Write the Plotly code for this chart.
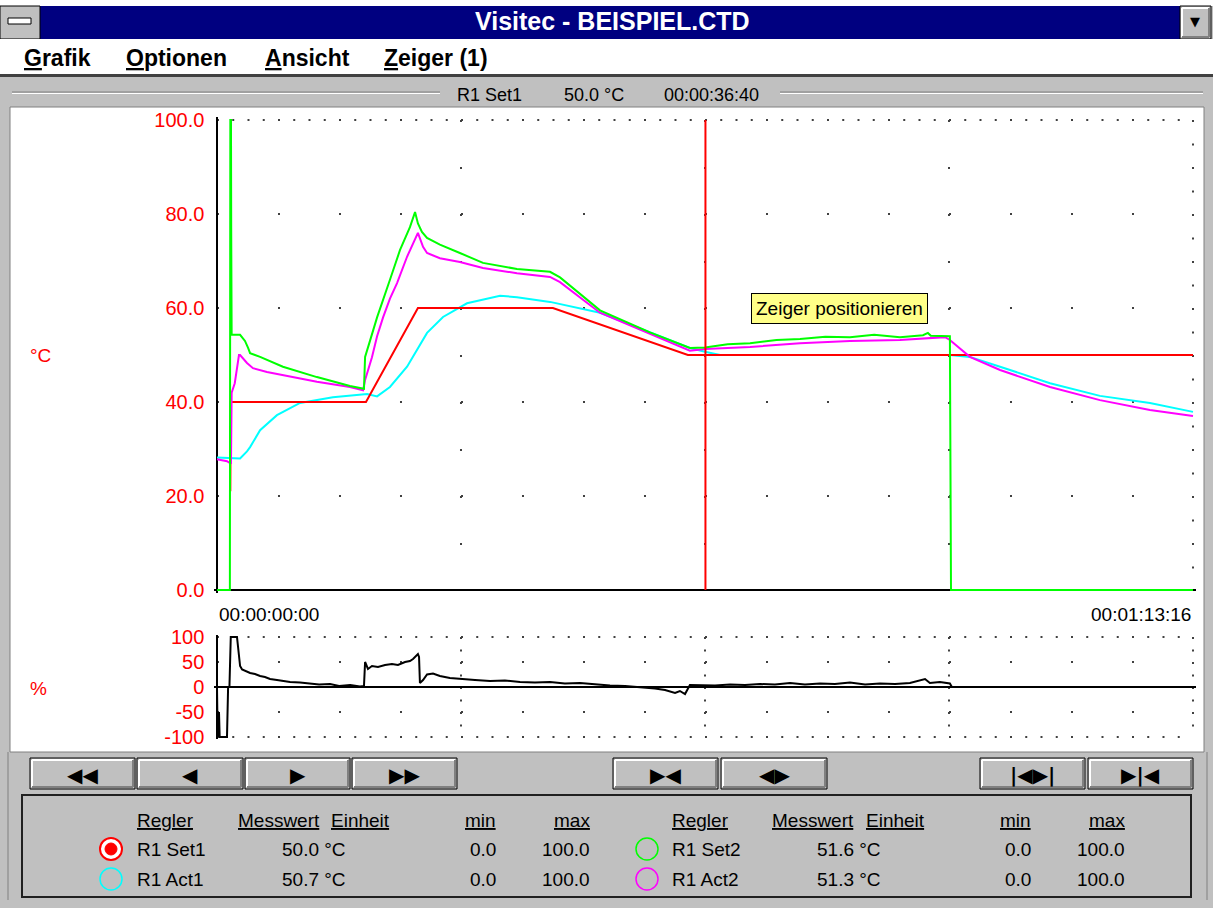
import numpy as np
import plotly.graph_objects as go

W, H = 1213, 908
FONT = "Liberation Sans, Arial, sans-serif"

# ---------------- data ----------------
T_END = 4396          # record length in s  (00:01:13:16)
cursor_t = 2200       # cursor position in s (00:00:36:40)

set1_t = [60, 62, 671, 905, 1513, 2121, 4396]
set1_v = [21, 40, 40, 60, 60, 50, 50]

act1_t = [0, 59, 104, 135, 149, 194, 270, 374, 522, 676, 721, 779, 856, 946, 1018, 1126,
          1275, 1351, 1500, 1725, 1950, 2130, 2198, 2266, 3301, 3391, 3527, 3752, 3977, 4202, 4396]
act1_v = [28.2, 28.0, 28.0, 29.5, 30.4, 34.0, 37.2, 39.8, 41.0, 41.7, 41.2, 43.2, 47.5, 54.7, 58.1, 61.0,
          62.6, 62.3, 61.3, 59.0, 54.8, 51.5, 50.7, 50.0, 50.0, 49.6, 47.5, 44.0, 41.3, 39.8, 37.9]

set2_t = [0, 58, 60, 63, 64, 66, 104, 126, 140, 149, 194, 297, 450, 599, 662, 667, 689, 721, 779,
          824, 869, 892, 905, 923, 946, 1004, 1094, 1198, 1351, 1450, 1500, 1545, 1725, 1950, 2130,
          2198, 2300, 2401, 2520, 2626, 2740, 2851, 2960, 3076, 3180, 3202, 3215, 3301, 3306, 4396]
set2_v = [0, 0, 100, 100, 77, 54.3, 54.3, 53.0, 51.5, 50.4, 49.6, 47.5, 45.3, 43.4, 42.8, 49.6, 53.0, 58.0, 66.0,
          72.3, 77.2, 80.4, 78.0, 76.2, 74.9, 73.5, 71.7, 69.6, 68.3, 68.0, 67.7, 66.5, 59.5, 54.8, 51.5,
          51.6, 52.3, 52.5, 53.2, 53.4, 53.9, 53.8, 54.3, 53.8, 54.2, 54.7, 54.1, 54.0, 0, 0]

act2_t = [0, 45, 58, 63, 66, 80, 99, 104, 135, 162, 225, 297, 450, 599, 658, 667, 698, 721, 748, 779,
          811, 856, 905, 928, 946, 1004, 1094, 1198, 1351, 1500, 1545, 1725, 1950, 2130, 2198, 2401,
          2626, 2851, 3076, 3279, 3301, 3391, 3527, 3752, 3977, 4202, 4396]
act2_v = [27.8, 27.4, 27.0, 27.0, 42.0, 44.0, 50.0, 50.0, 48.3, 47.2, 46.4, 45.7, 44.3, 43.2, 42.5, 44.7, 49.5, 54.0, 58.0, 62.0,
          65.3, 70.9, 76.0, 73.0, 71.7, 70.6, 69.8, 68.5, 67.4, 66.6, 65.5, 59.0, 54.5, 50.9, 51.3, 51.7,
          52.5, 53.0, 53.2, 53.8, 53.2, 49.6, 46.8, 43.2, 40.4, 38.3, 37.0]

pct_t = [0, 3, 9, 12, 45, 50, 56, 62, 90, 99, 104, 113, 126, 149, 171, 194, 216, 239, 270, 300, 329,
         374, 420, 460, 509, 550, 600, 644, 662, 667, 680, 698, 725, 757, 788, 815, 847, 869, 883, 896,
         905, 910, 914, 928, 946, 973, 1004, 1049, 1094, 1162, 1230, 1297, 1365, 1432, 1500, 1567,
         1635, 1703, 1770, 1838, 1905, 1973, 2018, 2063, 2085, 2108, 2130, 2175, 2243, 2311, 2378,
         2446, 2513, 2581, 2648, 2716, 2783, 2851, 2919, 2986, 3054, 3121, 3189, 3211, 3256, 3301, 3310]
pct_v = [0, -100, -50, -100, -100, 0, 0, 100, 100, 65, 42, 35, 32, 28, 26, 22, 20, 16, 14, 12, 10,
         9, 7, 5, 6, 2, 4, 1, 2, 50, 36, 42, 40, 44, 46, 44, 50, 52, 56, 62,
         66, 60, 8, 14, 25, 27, 22, 18, 16, 14, 12, 13, 10, 9, 10, 7,
         8, 5, 3, 2, 0, -3, -6, -12, -8, -14, 4, 4, 3, 5, 4,
         6, 5, 8, 5, 7, 6, 9, 5, 7, 6, 8, 16, 8, 10, 7, 0]

main_ticks = [0, 20, 40, 60, 80, 100]
main_ticktext = ["0.0", "20.0", "40.0", "60.0", "80.0", "100.0"]
pct_ticks = [-100, -50, 0, 50, 100]
pct_ticktext = ["-100", "-50", "0", "50", "100"]
main_grid_rows = [20, 40, 60, 80]
pct_grid_rows = [-50, 50]
grid_cols = [T_END / 4, T_END / 2, 3 * T_END / 4]
scale_min, scale_max = 0.0, 100.0


def fmt_time(sec):
    sec = int(round(sec))
    d, r = divmod(sec, 86400)
    h, r = divmod(r, 3600)
    m, s = divmod(r, 60)
    return f"{d:02d}:{h:02d}:{m:02d}:{s:02d}"


def at_cursor(t, v):
    return float(np.interp(cursor_t, t, v))


# ---------------- geometry helpers ----------------
def X(p):
    return p / W


def Y(p):
    return 1 - p / H


PX0, PX1 = 217, 1193          # pixel x of t=0 and t=T_END
pps = (PX1 - PX0) / T_END
xpad = 12
xr = [-xpad, T_END + xpad]
dom_x = [X(PX0 - xpad * pps), X(PX1 + xpad * pps)]

M_TOP, M_BOT = 120, 590       # pixel y of 100 and 0
mppu = (M_BOT - M_TOP) / 100
mpad = 0.6
yr_main = [-mpad, 100 + mpad]
dom_main = [Y(M_BOT + mpad * mppu), Y(M_TOP - mpad * mppu)]

L_TOP, L_BOT = 637, 737       # pixel y of +100 / -100
lppu = (L_BOT - L_TOP) / 200
lpad = 4
yr_low = [-100 - lpad, 100 + lpad]
dom_low = [Y(L_BOT + lpad * lppu), Y(L_TOP - lpad * lppu)]

GRAY = "#c0c0c0"
DARK = "#808080"
DOT = "#404040"

shapes = []
ann = []


def rect(x0, y0, x1, y1, fill, line=None, lw=0, layer="below"):
    shapes.append(dict(type="rect", xref="paper", yref="paper", x0=X(x0), x1=X(x1), y0=Y(y1), y1=Y(y0),
                       fillcolor=fill, line=dict(color=line or fill, width=lw), layer=layer))


def pline(x0, y0, x1, y1, color, w=1, layer="below"):
    shapes.append(dict(type="line", xref="paper", yref="paper", x0=X(x0), x1=X(x1), y0=Y(y0), y1=Y(y1),
                       line=dict(color=color, width=w), layer=layer))


def circ(cx, cy, r, color, fill="rgba(0,0,0,0)", lw=1.5):
    shapes.append(dict(type="circle", xref="paper", yref="paper", x0=X(cx - r), x1=X(cx + r),
                       y0=Y(cy + r), y1=Y(cy - r), line=dict(color=color, width=lw), fillcolor=fill,
                       layer="above"))


def txt(x, y, s, size=19, color="black", anchor="left", family=FONT, **kw):
    ann.append(dict(x=X(x), y=Y(y), xref="paper", yref="paper", text=s, showarrow=False,
                    xanchor=anchor, yanchor="middle", font=dict(family=family, size=size, color=color), **kw))


def button(x0, y0, x1, y1, label):
    rect(x0, y0, x1, y1, GRAY, "#000000", 1, layer="above")
    pline(x0 + 2, y1 - 2, x0 + 2, y0 + 2, "white", 2, "above")
    pline(x0 + 2, y0 + 2, x1 - 2, y0 + 2, "white", 2, "above")
    pline(x0 + 2, y1 - 2, x1 - 2, y1 - 2, DARK, 2, "above")
    pline(x1 - 2, y1 - 2, x1 - 2, y0 + 2, DARK, 2, "above")
    txt((x0 + x1) / 2, (y0 + y1) / 2 + 1, label, size=20, anchor="center", family="DejaVu Sans")


# ---------------- window chrome ----------------
rect(0, 0, W, 6, "white")
rect(40, 6, 1180, 39, "#000080")
rect(0, 6, 40, 39, GRAY, "#000000", 1)
rect(8, 18, 31, 24, "white", "#000000", 1)
rect(1180, 6, 1211, 39, GRAY, "#000000", 1)
pline(1182, 37, 1182, 8, "white", 2)
pline(1182, 8, 1209, 8, "white", 2)
pline(1182, 37, 1209, 37, DARK, 2)
pline(1209, 37, 1209, 8, DARK, 2)
txt(1195, 22, "▼", size=13, anchor="center", family="DejaVu Sans")
txt(612, 21, "<b>Visitec - BEISPIEL.CTD</b>", size=25, color="white", anchor="center")

rect(0, 39, W, 74, "white")
rect(0, 74, W, 77, "#404040")
txt(22, 58, "<b><u>G</u>rafik</b>", size=23)
txt(124, 58, "<b><u>O</u>ptionen</b>", size=23)
txt(263, 58, "<b><u>A</u>nsicht</b>", size=23)
txt(382, 58, "<b><u>Z</u>eiger (1)</b>", size=23)

# header groove + cursor readout
pline(12, 92, 440, 92, DARK, 1)
pline(12, 93.5, 440, 93.5, "white", 1)
pline(780, 92, 1203, 92, DARK, 1)
pline(780, 93.5, 1203, 93.5, "white", 1)
txt(455, 95, "R1 Set1", size=18)
txt(562, 95, f"{at_cursor(set1_t, set1_v):.1f} °C", size=18)
txt(662, 95, fmt_time(cursor_t), size=18)

# white chart panel
rect(10, 107, 1204, 752, "white", DARK, 1)

# outer frame of lower part
pline(8, 752, 8, 900, DARK, 1)
pline(1207, 752, 1207, 900, DARK, 1)

# buttons
btns = [(30, 135, "◀◀"), (137, 243, "◀"), (245, 350, "▶"), (352, 457, "▶▶"),
        (613, 718, "▶◀"), (721, 827, "◀▶"), (980, 1085, "<b>|</b>◀▶<b>|</b>"), (1088, 1193, "▶<b>|</b>◀")]
for bx0, bx1, lab in btns:
    button(bx0, 758, bx1, 789, lab)

# legend box
rect(22, 795, 1191, 897, GRAY, "#202020", 2)

# legend headers
for rx, mx, ex, minr, maxr in [(135, 236, 329, 498, 592), (670, 770, 864, 1033, 1127)]:
    txt(rx, 820, "<u>Regler</u>")
    txt(mx, 820, "<u>Messwert</u>")
    txt(ex, 820, "<u>Einheit</u>")
    txt(minr, 820, "<u>min</u>", anchor="right")
    txt(maxr, 820, "<u>max</u>", anchor="right")

rows = [
    ("R1 Set1", set1_t, set1_v, "#ff0000", 111, 849, 135, 280, 498, 592, True),
    ("R1 Act1", act1_t, act1_v, "#00ffff", 111, 879, 135, 280, 498, 592, False),
    ("R1 Set2", set2_t, set2_v, "#00ff00", 647, 849, 670, 815, 1033, 1127, False),
    ("R1 Act2", act2_t, act2_v, "#ff00ff", 647, 879, 670, 815, 1033, 1127, False),
]
for name, tt, vv, col, cx, cy, nx, vx, minr, maxr, sel in rows:
    if sel:
        circ(cx, cy, 11, col, "white", 2)
        circ(cx, cy, 6, col, col, 1)
    else:
        circ(cx, cy, 11, col, "rgba(0,0,0,0)", 1.5)
    txt(nx, cy, name)
    txt(vx, cy, f"{at_cursor(tt, vv):.1f} °C")
    txt(minr, cy, f"{scale_min:.1f}", anchor="right")
    txt(maxr, cy, f"{scale_max:.1f}", anchor="right")

# axis captions
txt(40, 355, "°C", size=19, color="#ff0000", anchor="center")
txt(38, 688, "%", size=19, color="#ff0000", anchor="center")

# time range labels under main plot
ann.append(dict(x=0, y=Y(614), xref="x", yref="paper", text=fmt_time(0), showarrow=False,
                xanchor="left", yanchor="middle", font=dict(family=FONT, size=19, color="black")))
ann.append(dict(x=T_END, y=Y(614), xref="x", yref="paper", text=fmt_time(T_END), showarrow=False,
                xanchor="right", yanchor="middle", font=dict(family=FONT, size=19, color="black")))

# tooltip
txt(839, 308, "Zeiger positionieren", size=19, anchor="center",
    bgcolor="#ffff88", bordercolor="black", borderwidth=1, borderpad=4)


# ---------------- dotted grid (data coords) ----------------
def dline(xref, yref, x0, y0, x1, y1, dash):
    shapes.append(dict(type="line", xref=xref, yref=yref, x0=x0, y0=y0, x1=x1, y1=y1,
                       line=dict(color=DOT, width=2, dash=dash), layer="below"))


for gy in main_grid_rows:
    dline("x", "y", 0, gy, T_END, gy, "2px,59px")
for gx in grid_cols:
    dline("x", "y", gx, 100, gx, 0, "2px,45px")
dline("x", "y", T_END, 100, T_END, 0, "2px,21.5px")
dline("x", "y", 0, 100, T_END, 100, "2px,13.25px")

for gy in pct_grid_rows:
    dline("x2", "y2", 0, gy, T_END, gy, "2px,59px")
for gy in (100, -100):
    dline("x2", "y2", 0, gy, T_END, gy, "2px,13.25px")
for gx in grid_cols + [T_END]:
    dline("x2", "y2", gx, 100, gx, -100, "2px,10.5px")

# cursor
shapes.append(dict(type="line", xref="x", yref="y", x0=cursor_t, x1=cursor_t, y0=0, y1=100,
                   line=dict(color="#ff0000", width=2), layer="above"))

# ---------------- traces ----------------
fig = go.Figure()


def add(t, v, color, xa="x", ya="y", w=2):
    fig.add_trace(go.Scatter(x=t, y=v, mode="lines", line=dict(color=color, width=w),
                             xaxis=xa, yaxis=ya, hoverinfo="skip", showlegend=False))


add(act1_t, act1_v, "#00ffff")
add(set1_t, set1_v, "#ff0000")
add(act2_t, act2_v, "#ff00ff")
add(set2_t, set2_v, "#00ff00")
add(pct_t, pct_v, "#000000", "x2", "y2")

axis_common = dict(showgrid=False, zeroline=True, zerolinecolor="black", zerolinewidth=2,
                   showline=False, fixedrange=True, layer="below traces", automargin=False)

fig.update_layout(
    width=W, height=H, autosize=False,
    margin=dict(l=0, r=0, t=0, b=0, pad=0, autoexpand=False),
    paper_bgcolor=GRAY, plot_bgcolor="white",
    xaxis=dict(domain=dom_x, range=xr, showticklabels=False, ticks="", anchor="y", **axis_common),
    yaxis=dict(domain=dom_main, range=yr_main, tickvals=main_ticks, ticktext=main_ticktext, ticks="",
               ticklabelstandoff=9, tickfont=dict(family=FONT, size=20, color="#ff0000"), anchor="x",
               **axis_common),
    xaxis2=dict(domain=dom_x, range=xr, showticklabels=False, ticks="", anchor="y2", **axis_common),
    yaxis2=dict(domain=dom_low, range=yr_low, tickvals=pct_ticks, ticktext=pct_ticktext, ticks="",
                ticklabelstandoff=9, tickfont=dict(family=FONT, size=20, color="#ff0000"), anchor="x2",
                **axis_common),
    shapes=shapes, annotations=ann, showlegend=False,
)

fig.write_html("out.html", config={"displayModeBar": False, "staticPlot": True},
               post_script="document.body.style.margin='0';document.body.style.overflow='hidden';")
